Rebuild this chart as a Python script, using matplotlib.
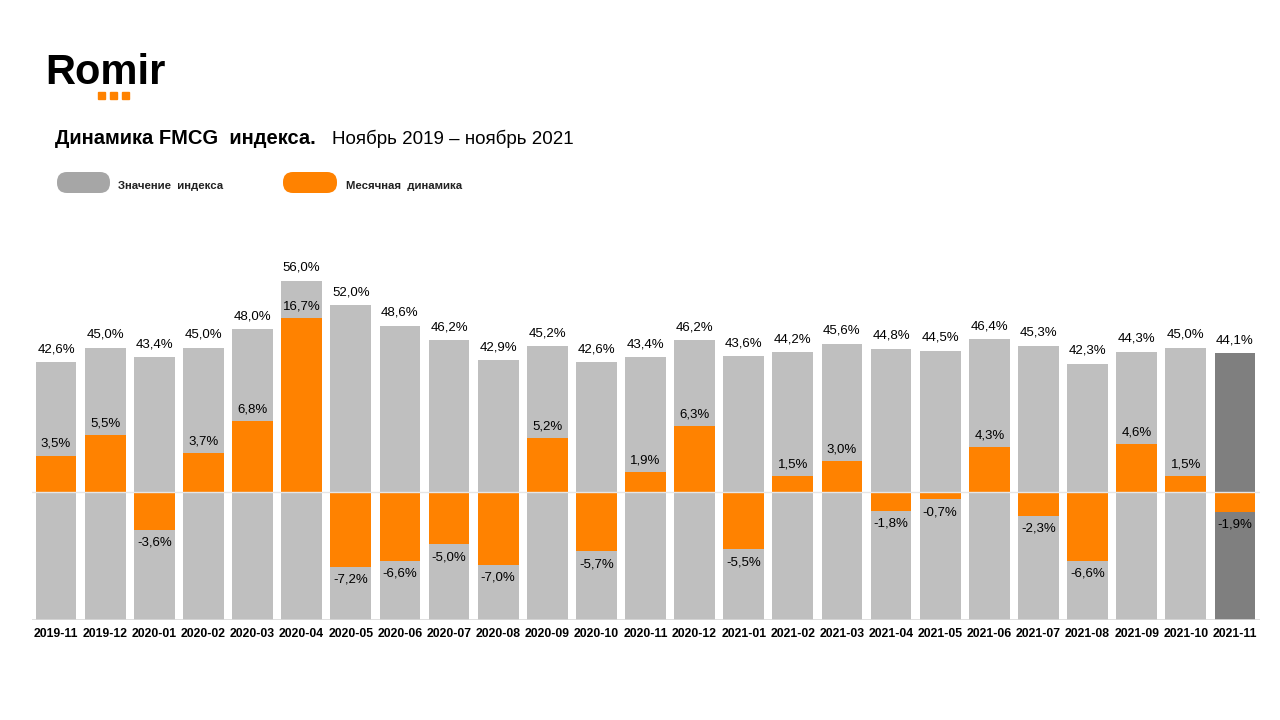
import numpy as np
import matplotlib.pyplot as plt
from matplotlib.patches import FancyBboxPatch, Rectangle

plt.rcParams['font.family'] = ['Liberation Sans', 'DejaVu Sans']

# data
months = ['2019-11', '2019-12', '2020-01', '2020-02', '2020-03', '2020-04', '2020-05',
          '2020-06', '2020-07', '2020-08', '2020-09', '2020-10', '2020-11', '2020-12',
          '2021-01', '2021-02', '2021-03', '2021-04', '2021-05', '2021-06', '2021-07',
          '2021-08', '2021-09', '2021-10', '2021-11']
index_val = [42.6, 45.0, 43.4, 45.0, 48.0, 56.0, 52.0, 48.6, 46.2, 42.9, 45.2, 42.6, 43.4,
             46.2, 43.6, 44.2, 45.6, 44.8, 44.5, 46.4, 45.3, 42.3, 44.3, 45.0, 44.1]
monthly = [3.5, 5.5, -3.6, 3.7, 6.8, 16.7, -7.2, -6.6, -5.0, -7.0, 5.2, -5.7, 1.9,
           6.3, -5.5, 1.5, 3.0, -1.8, -0.7, 4.3, -2.3, -6.6, 4.6, 1.5, -1.9]

gray = '#BFBFBF'
dark = '#7F7F7F'
orange = '#FF8200'

def fmt(v):
    return ('%.1f%%' % v).replace('.', ',')

fig = plt.figure(figsize=(12.8, 7.2), dpi=100)
x = np.arange(len(months))
w = 0.83

# main chart: gray index bars
ax = fig.add_axes([31.5/1280, 1-620/720, 1228/1280, 360/720])
cols = [gray]*(len(months)-1) + [dark]
ax.bar(x, index_val, width=w, color=cols, zorder=2)
ax.set_xlim(-0.5, len(months)-0.5)
ax.set_ylim(0, 360/6.055)
for xi, v in zip(x, index_val):
    ax.annotate(fmt(v), (xi, v), xytext=(0, 5), textcoords='offset points',
                ha='center', va='bottom', fontsize=9.5)
ax.axhline(0, color='#d9d9d9', lw=1.2, zorder=3)
ax.set_yticks([])
ax.set_xticks(x)
ax.set_xticklabels(months, fontsize=8.8, fontweight='bold')
ax.tick_params(axis='x', length=0, pad=6)
for s in ax.spines.values():
    s.set_visible(False)

# monthly change bars on a second scale
ax2 = ax.twinx()
ax2.bar(x, monthly, width=w, color=orange, zorder=2)
ax2.set_ylim(-128/10.42, 232/10.42)
ax2.axhline(0, color='#e6e6e6', lw=1, zorder=4)
for xi, v in zip(x, monthly):
    if v >= 0:
        ax2.annotate(fmt(v), (xi, v), xytext=(0, 4), textcoords='offset points',
                     ha='center', va='bottom', fontsize=9.5)
    else:
        ax2.annotate(fmt(v), (xi, v), xytext=(0, -5), textcoords='offset points',
                     ha='center', va='top', fontsize=9.5)
ax2.set_yticks([])
for s in ax2.spines.values():
    s.set_visible(False)

# header: logo, title, legend drawn in pixel coords
hd = fig.add_axes([0, 0, 1, 1], zorder=-1)
hd.set_xlim(0, 1280)
hd.set_ylim(720, 0)
hd.axis('off')

hd.text(45, 73, 'Romir', fontsize=30, fontweight='bold', va='center', ha='left')
for sx in [98, 110, 122]:
    hd.add_patch(Rectangle((sx, 92), 7, 7, color=orange))

hd.text(55, 139, 'Динамика FMCG  индекса.', fontsize=14.5, fontweight='bold',
        va='center', ha='left')
hd.text(332, 139, 'Ноябрь 2019 – ноябрь 2021', fontsize=13.5, va='center', ha='left')

hd.add_patch(FancyBboxPatch((57, 172), 53, 21, boxstyle='round,pad=0,rounding_size=10',
                            color='#A6A6A6', lw=0))
hd.text(118, 186, 'Значение  индекса', fontsize=8.2, fontweight='bold', va='center',
        ha='left', color='#222222')
hd.add_patch(FancyBboxPatch((283, 172), 54, 21, boxstyle='round,pad=0,rounding_size=10',
                            color=orange, lw=0))
hd.text(346, 186, 'Месячная  динамика', fontsize=8.2, fontweight='bold', va='center',
        ha='left', color='#222222')

fig.savefig('out.png', dpi=100)
